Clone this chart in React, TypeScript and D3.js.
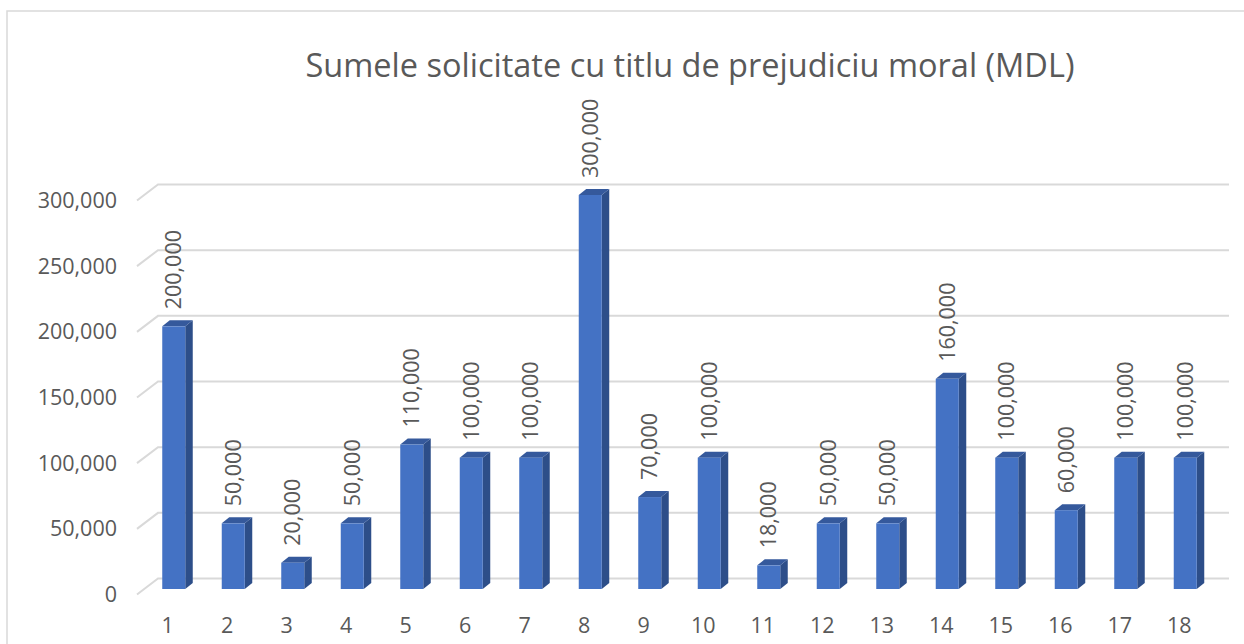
import * as d3 from "d3";

const categories = ["1", "2", "3", "4", "5", "6", "7", "8", "9", "10", "11", "12", "13", "14", "15", "16", "17", "18"];
const values = [200000, 50000, 20000, 50000, 110000, 100000, 100000, 300000, 70000, 100000, 18000, 50000, 50000, 160000, 100000, 60000, 100000, 100000];
const yTicks = [0, 50000, 100000, 150000, 200000, 250000, 300000];
const title = "Sumele solicitate cu titlu de prejudiciu moral (MDL)";

const W = 1244;
const H = 644;
const font = "'Open Sans', 'Liberation Sans', sans-serif";
const textColor = "#595959";
const gridColor = "#d9d9d9";

export default function App() {
  const x = d3.scaleBand<string>().domain(categories).range([144, 1215]).padding(0);
  const y = d3.scaleLinear().domain([0, 300000]).range([589, 195]);
  const fmt = d3.format(",");

  const backShift = -10.5; // back wall sits above the bar fronts
  const depthX = 7.5;
  const depthY = -6;
  const barW = 23;
  const wallLeft = 158;
  const wallRight = 1229;

  return (
    <svg width={W} height={H} style={{ position: "absolute", left: 0, top: 0, fontFamily: font }}>
      <rect x={0} y={0} width={W} height={H} fill="#fff" />
      <rect x={7} y={11} width={W + 20} height={H + 20} fill="none" stroke={gridColor} strokeWidth={1.5} />

      <text x={690} y={77} textAnchor="middle" fontSize={32.5} fill={textColor}>
        {title}
      </text>

      {/* back wall gridlines with side-wall diagonals */}
      <g stroke={gridColor} strokeWidth={2} fill="none">
        {yTicks.map((t) => {
          const yb = y(t) + backShift;
          return (
            <path key={t} d={`M137,${yb + 16} L${wallLeft},${yb} L${wallRight},${yb}`} />
          );
        })}
      </g>

      {/* y tick labels */}
      <g fontSize={21.5} fill={textColor} textAnchor="end">
        {yTicks.map((t) => (
          <text key={t} x={117} y={y(t) + backShift + 16} dy="0.35em">
            {fmt(t)}
          </text>
        ))}
      </g>

      {/* 3D columns */}
      <g>
        {categories.map((c, i) => {
          const cx = x(c)! + x.bandwidth() / 2;
          const x0 = cx - barW / 2;
          const x1 = cx + barW / 2;
          const yt = y(values[i]);
          const yb = y(0);
          return (
            <g key={c}>
              <path
                d={`M${x1},${yb} L${x1 + depthX},${yb + depthY} L${x1 + depthX},${yt + depthY} L${x1},${yt} Z`}
                fill="#2d4e89"
              />
              <path
                d={`M${x0},${yt} L${x0 + depthX},${yt + depthY} L${x1 + depthX},${yt + depthY} L${x1},${yt} Z`}
                fill="#35599c"
              />
              <rect x={x0} y={yt} width={barW} height={yb - yt} fill="#4472c4" />
            </g>
          );
        })}
      </g>

      {/* data labels */}
      <g fontSize={21.5} fill={textColor}>
        {categories.map((c, i) => {
          const cx = x(c)! + x.bandwidth() / 2;
          const ly = y(values[i]) - 17;
          return (
            <text key={c} transform={`translate(${cx},${ly}) rotate(-90)`} dy="0.35em" textAnchor="start">
              {fmt(values[i])}
            </text>
          );
        })}
      </g>

      {/* category labels */}
      <g fontSize={21.5} fill={textColor} textAnchor="middle">
        {categories.map((c) => (
          <text key={c} x={x(c)! + x.bandwidth() / 2 - 6} y={625} dy="0.35em">
            {c}
          </text>
        ))}
      </g>
    </svg>
  );
}
